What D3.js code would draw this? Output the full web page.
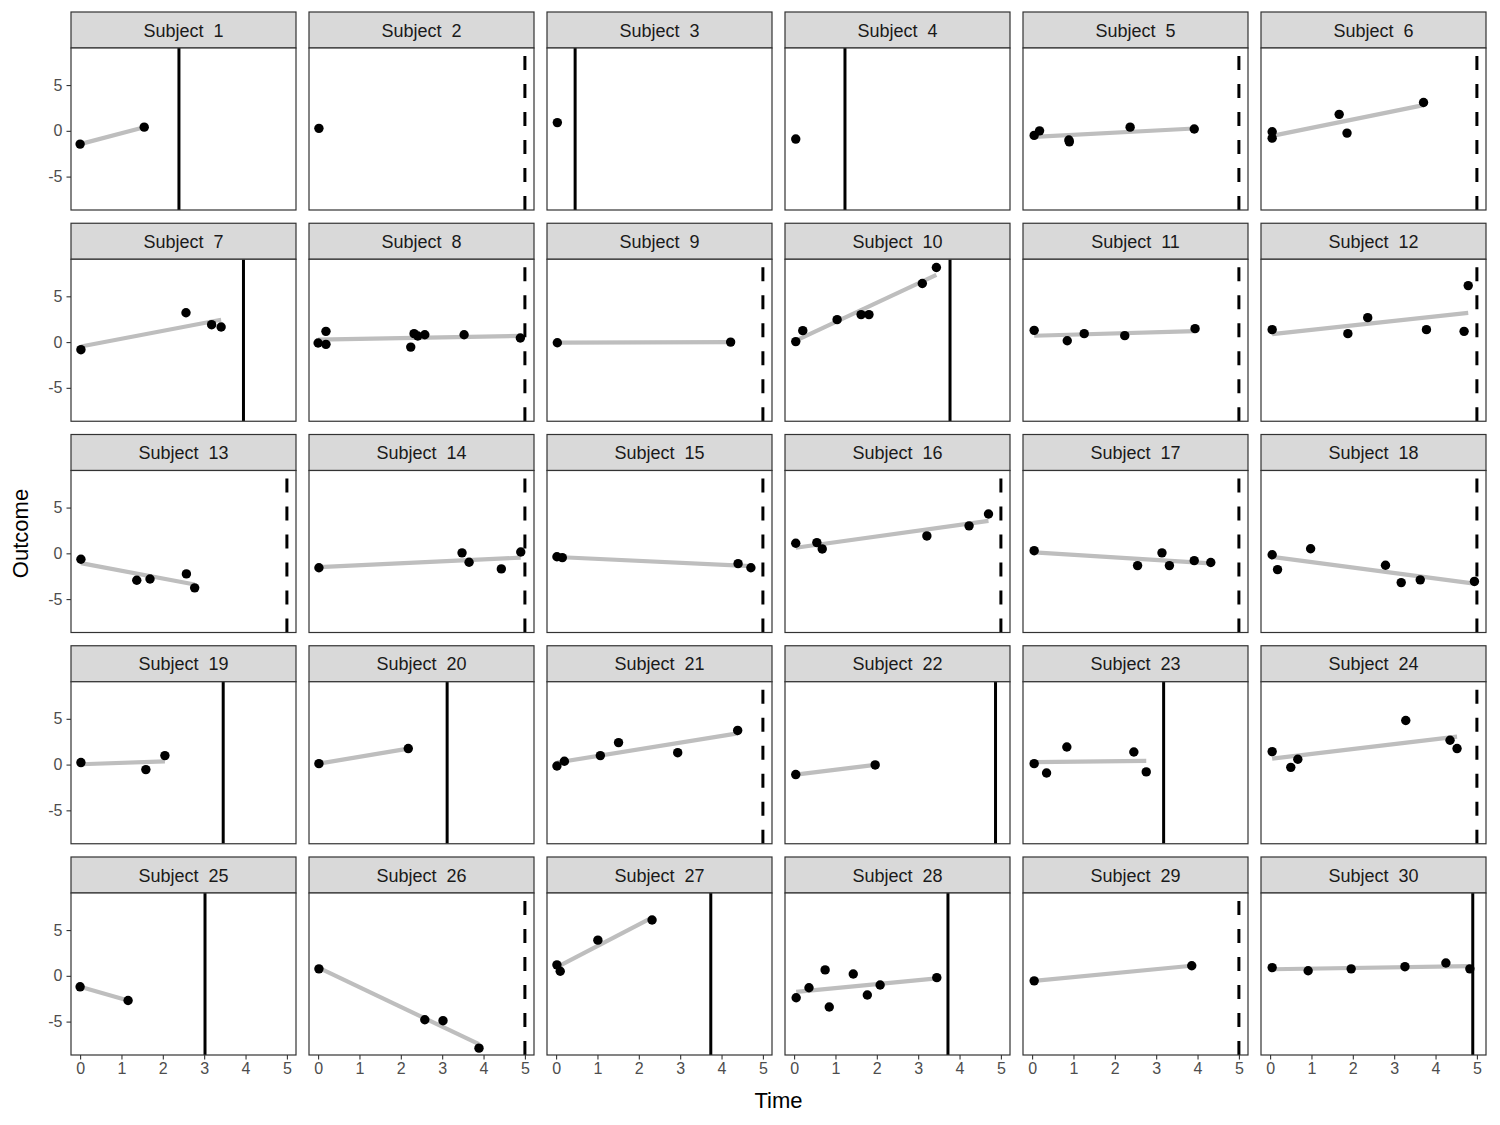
<!DOCTYPE html>
<html>
<head>
<meta charset="utf-8">
<script src="https://cdn.jsdelivr.net/npm/d3@7"></script>
<style>
  body { margin: 0; background: #fff; }
  svg { font-family: "Liberation Sans", Arial, sans-serif; }
</style>
</head>
<body>
<svg id="main-svg" width="1500" height="1125"></svg>
<script>
// Subject ids, one panel each
const subjects = d3.range(1, 31);

// End of follow-up per subject, and whether it was an event (1 = solid) or censoring (0 = dashed)
const endTime = [2.39, 5, 0.46, 1.23, 5, 5, 3.95, 5, 5, 3.77,
                 5, 5, 5, 5, 5, 5, 5, 5, 3.46, 3.12,
                 5, 4.87, 3.18, 5, 3.02, 5, 3.74, 3.72, 5, 4.9];
const endStatus = [1, 0, 1, 1, 0, 0, 1, 0, 0, 1,
                   0, 0, 0, 0, 0, 0, 0, 0, 1, 1,
                   0, 1, 1, 0, 1, 0, 1, 1, 0, 1];

// Observation times per subject
const obsTimes = [
    [0.0, 1.55],
    [0.02],
    [0.03],
    [0.04],
    [0.05, 0.18, 0.89, 0.9, 2.37, 3.92],
    [0.05, 0.05, 1.67, 1.86, 3.71],
    [0.02, 2.56, 3.18, 3.41],
    [0.0, 0.19, 0.19, 2.24, 2.32, 2.41, 2.58, 3.53, 4.89],
    [0.03, 4.22],
    [0.04, 0.21, 1.04, 1.62, 1.81, 3.1, 3.44],
    [0.05, 0.85, 1.26, 2.24, 3.94],
    [0.05, 1.88, 2.36, 3.78, 4.69, 4.79],
    [0.02, 1.37, 1.69, 2.57, 2.77],
    [0.02, 3.48, 3.65, 4.43, 4.9],
    [0.02, 0.15, 4.4, 4.71],
    [0.04, 0.55, 0.68, 3.21, 4.23, 4.7],
    [0.05, 2.55, 3.14, 3.32, 3.92, 4.32],
    [0.05, 0.18, 0.98, 2.79, 3.17, 3.63, 4.94],
    [0.02, 1.59, 2.05],
    [0.02, 2.18],
    [0.02, 0.2, 1.07, 1.51, 2.94, 4.39],
    [0.04, 1.96],
    [0.05, 0.35, 0.84, 2.46, 2.76],
    [0.05, 0.5, 0.67, 3.28, 4.35, 4.52],
    [0.0, 1.16],
    [0.02, 2.58, 3.02, 3.89],
    [0.02, 0.1, 1.01, 2.32],
    [0.05, 0.36, 0.75, 0.85, 1.43, 1.77, 2.08, 3.45],
    [0.05, 3.86],
    [0.05, 0.92, 1.96, 3.26, 4.25, 4.83]
];

// Outcome values per subject, matching obsTimes
const obsValues = [
    [-1.45, 0.4],
    [0.27],
    [0.9],
    [-0.9],
    [-0.5, 0.0, -1.0, -1.2, 0.4, 0.2],
    [-0.1, -0.8, 1.8, -0.25, 3.1],
    [-0.83, 3.2, 1.9, 1.65],
    [-0.1, 1.17, -0.25, -0.55, 0.92, 0.66, 0.8, 0.8, 0.45],
    [-0.07, 0.0],
    [0.05, 1.25, 2.45, 3.0, 3.0, 6.4, 8.15],
    [1.28, 0.15, 0.92, 0.7, 1.47],
    [1.36, 0.92, 2.67, 1.36, 1.17, 6.17],
    [-0.65, -2.94, -2.8, -2.25, -3.77],
    [-1.57, 0.05, -0.98, -1.7, 0.15],
    [-0.37, -0.47, -1.13, -1.57],
    [1.1, 1.17, 0.48, 1.9, 3.0, 4.3],
    [0.29, -1.34, 0.05, -1.34, -0.8, -1.0],
    [-0.15, -1.78, 0.5, -1.3, -3.2, -2.9, -3.07],
    [0.22, -0.55, 0.98],
    [0.1, 1.75],
    [-0.15, 0.36, 0.98, 2.4, 1.3, 3.73],
    [-1.09, -0.04],
    [0.1, -0.92, 1.92, 1.37, -0.8],
    [1.42, -0.3, 0.58, 4.82, 2.66, 1.75],
    [-1.2, -2.7],
    [0.76, -4.8, -4.9, -7.9],
    [1.2, 0.5, 3.9, 6.1],
    [-2.4, -1.3, 0.65, -3.4, 0.2, -2.1, -1.0, -0.2],
    [-0.55, 1.1],
    [0.9, 0.55, 0.76, 1.0, 1.4, 0.76]
];

const xTicks = [0, 1, 2, 3, 4, 5];
const yTicks = [-5, 0, 5];

// Layout of the facet grid
const nCols = 6;
const gridLeft = 71, gridTop = 12;
const panelW = 225, panelH = 162, stripH = 36;
const colStep = 238, rowStep = 211.25;

const x = d3.scaleLinear().domain([-0.22, 5.22]).range([0, panelW]);
const y = d3.scaleLinear().domain([-8.65, 9.05]).range([panelH, 0]);

const svg = d3.select('#main-svg');
const defs = svg.append('defs');
defs.append('clipPath').attr('id', 'panel-clip')
    .append('rect').attr('width', panelW).attr('height', panelH);

// Simple least squares fit, like geom_smooth(method = "lm")
function fitLine(ts, vs) {
    const mt = d3.mean(ts), mv = d3.mean(vs);
    let sxy = 0, sxx = 0;
    ts.forEach((t, i) => {
        sxy += (t - mt) * (vs[i] - mv);
        sxx += (t - mt) * (t - mt);
    });
    const slope = sxx === 0 ? 0 : sxy / sxx;
    const t0 = d3.min(ts), t1 = d3.max(ts);
    return [[t0, mv + slope * (t0 - mt)], [t1, mv + slope * (t1 - mt)]];
}

const nRows = Math.ceil(subjects.length / nCols);

subjects.forEach((id, i) => {
    const col = i % nCols, row = Math.floor(i / nCols);
    const g = svg.append('g')
        .attr('transform', `translate(${gridLeft + col * colStep}, ${gridTop + row * rowStep})`);

    // strip
    g.append('rect')
        .attr('width', panelW).attr('height', stripH)
        .attr('fill', '#d9d9d9').attr('stroke', '#333').attr('stroke-width', 1.2);
    g.append('text')
        .attr('x', panelW / 2).attr('y', stripH / 2 + 6.5)
        .attr('text-anchor', 'middle')
        .attr('font-size', 18).attr('fill', '#1a1a1a')
        .text('Subject \u00a0' + id);

    const p = g.append('g').attr('transform', `translate(0, ${stripH})`);
    p.append('rect').attr('width', panelW).attr('height', panelH).attr('fill', '#fff');

    const inner = p.append('g').attr('clip-path', 'url(#panel-clip)');

    // end of follow-up line, drawn from the bottom up
    inner.append('line')
        .attr('x1', x(endTime[i])).attr('x2', x(endTime[i]))
        .attr('y1', panelH).attr('y2', 0)
        .attr('stroke', '#000').attr('stroke-width', 3)
        .attr('stroke-dasharray', endStatus[i] === 1 ? null : '14,14');

    const ts = obsTimes[i], vs = obsValues[i];
    if (ts.length > 1) {
        const seg = fitLine(ts, vs);
        inner.append('line')
            .attr('x1', x(seg[0][0])).attr('y1', y(seg[0][1]))
            .attr('x2', x(seg[1][0])).attr('y2', y(seg[1][1]))
            .attr('stroke', '#bebebe').attr('stroke-width', 4.2);
    }

    inner.selectAll('circle')
        .data(ts.map((t, k) => ({ t: t, v: vs[k] })))
        .enter()
        .append('circle')
        .attr('cx', d => x(d.t)).attr('cy', d => y(d.v))
        .attr('r', 4.7).attr('fill', '#000');

    p.append('rect').attr('width', panelW).attr('height', panelH)
        .attr('fill', 'none').attr('stroke', '#333').attr('stroke-width', 1.2);

    // axes only on outer panels
    if (col === 0) {
        const ya = p.append('g').call(d3.axisLeft(y).tickValues(yTicks)
            .tickFormat(d => String(d)).tickSize(4.5).tickPadding(4));
        ya.select('.domain').remove();
        ya.selectAll('line').attr('stroke', '#333').attr('stroke-width', 1.1);
        ya.selectAll('text').attr('font-size', 16).attr('fill', '#4d4d4d')
            .style('font-family', '"Liberation Sans", Arial, sans-serif');
    }
    if (row === nRows - 1) {
        const xa = p.append('g').attr('transform', `translate(0, ${panelH})`)
            .call(d3.axisBottom(x).tickValues(xTicks)
                .tickFormat(d => String(d)).tickSize(4.5).tickPadding(3));
        xa.select('.domain').remove();
        xa.selectAll('line').attr('stroke', '#333').attr('stroke-width', 1.1);
        xa.selectAll('text').attr('font-size', 16).attr('fill', '#4d4d4d')
            .style('font-family', '"Liberation Sans", Arial, sans-serif');
    }
});

// axis titles
svg.append('text')
    .attr('x', gridLeft + (nCols * colStep - (colStep - panelW)) / 2)
    .attr('y', 1108)
    .attr('text-anchor', 'middle')
    .attr('font-size', 22).attr('fill', '#000')
    .text('Time');

svg.append('text')
    .attr('transform', `translate(28, ${gridTop + (nRows * rowStep - (rowStep - stripH - panelH)) / 2}) rotate(-90)`)
    .attr('text-anchor', 'middle')
    .attr('font-size', 22).attr('fill', '#000')
    .text('Outcome');
</script>
</body>
</html>
